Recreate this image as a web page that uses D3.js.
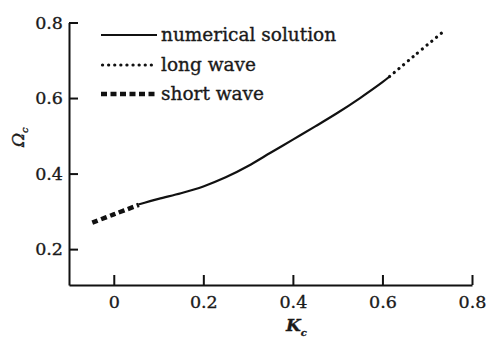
<!DOCTYPE html>
<html>
<head>
<meta charset="utf-8">
<script src="https://cdn.jsdelivr.net/npm/d3@7"></script>
<style>
  body { margin: 0; background: #fff; }
  svg { display: block; }
  text { font-family: "DejaVu Serif", "Liberation Serif", serif; fill: #1a1a1a; stroke: #1a1a1a; stroke-width: 0.35px; }
</style>
</head>
<body>
<div id="chart"></div>
<script>
// data
const numericalK = [0.055, 0.1, 0.15, 0.2, 0.25, 0.3, 0.35, 0.4, 0.45, 0.5, 0.55, 0.6, 0.616];
const numericalOmega = [0.318, 0.333, 0.348, 0.366, 0.390, 0.420, 0.455, 0.490, 0.525, 0.561, 0.600, 0.642, 0.657];
const longK = [0.616, 0.67, 0.732];
const longOmega = [0.657, 0.711, 0.772];
const shortK = [-0.048, 0.0, 0.056];
const shortOmega = [0.270, 0.292, 0.317];
const xTicks = [0, 0.2, 0.4, 0.6, 0.8];
const yTicks = [0.2, 0.4, 0.6, 0.8];
const legendLabels = ['numerical solution', 'long wave', 'short wave'];

const width = 491, height = 337;
const margins = { left: 69, right: 19, top: 22.5, bottom: 52 };

const svg = d3.select('#chart').append('svg')
  .attr('width', width)
  .attr('height', height);

const x = d3.scaleLinear().domain([-0.1, 0.8]).range([margins.left, width - margins.right]);
const y = d3.scaleLinear().domain([0.105, 0.8]).range([height - margins.bottom, margins.top]);

// axes, ticks pointing inward
const xAxis = svg.append('g')
  .attr('transform', `translate(0, ${height - margins.bottom})`)
  .call(d3.axisBottom(x).tickValues(xTicks).tickSize(-10).tickFormat(d3.format('.1~f')).tickSizeOuter(0));
xAxis.selectAll('text').attr('y', 0).attr('dy', '23px').style('font-size', '17.5px');

const yAxis = svg.append('g')
  .attr('transform', `translate(${margins.left}, 0)`)
  .call(d3.axisLeft(y).tickValues(yTicks).tickSize(-9).tickPadding(6).tickFormat(d3.format('.1f')).tickSizeOuter(0));
yAxis.selectAll('text').style('font-size', '17.5px');

svg.selectAll('.domain, .tick line')
  .style('stroke', '#111')
  .style('stroke-width', 2);

// axis labels
const xLabel = svg.append('text')
  .attr('x', x(0.4) - 7)
  .attr('y', 331)
  .style('font-size', '17px')
  .style('font-weight', 'bold')
  .style('font-style', 'italic');
xLabel.append('tspan').text('K');
xLabel.append('tspan').attr('dy', 5).style('font-size', '10px').text('c');

const yLabel = svg.append('text')
  .attr('transform', `translate(24, 147) rotate(-90)`)
  .style('font-size', '17px')
  .style('font-style', 'italic');
yLabel.append('tspan').text('Ω');
yLabel.append('tspan').attr('dy', 4).style('font-size', '10px').text('c');

// curves
const line = d3.line().x(d => x(d[0])).y(d => y(d[1])).curve(d3.curveCatmullRom);

svg.append('path')
  .datum(d3.zip(numericalK, numericalOmega))
  .attr('d', line)
  .attr('fill', 'none')
  .attr('stroke', '#111')
  .attr('stroke-width', 2.2);

svg.append('path')
  .datum(d3.zip(longK, longOmega))
  .attr('d', line)
  .attr('fill', 'none')
  .attr('stroke', '#111')
  .attr('stroke-width', 3.2)
  .attr('stroke-linecap', 'round')
  .attr('stroke-dasharray', '0.1 6');

svg.append('path')
  .datum(d3.zip(shortK, shortOmega))
  .attr('d', line)
  .attr('fill', 'none')
  .attr('stroke', '#111')
  .attr('stroke-width', 4.5)
  .attr('stroke-dasharray', '6 3.5');

// legend
const legendStyles = [
  { width: 2.2, dash: null, cap: 'butt' },
  { width: 3.2, dash: '0.1 6', cap: 'round' },
  { width: 4.5, dash: '6 3.5', cap: 'butt' }
];
const legendY = [35, 65, 94];
const legend = svg.append('g').attr('class', 'legend');
const items = legend.selectAll('.legend-item')
  .data(legendLabels)
  .enter()
  .append('g')
  .attr('class', 'legend-item')
  .attr('transform', (d, i) => `translate(101, ${legendY[i]})`);

items.append('line')
  .attr('x1', (d, i) => i === 1 ? 1.5 : 0)
  .attr('x2', 56)
  .attr('stroke', '#111')
  .attr('stroke-width', (d, i) => legendStyles[i].width)
  .attr('stroke-linecap', (d, i) => legendStyles[i].cap)
  .attr('stroke-dasharray', (d, i) => legendStyles[i].dash);

items.append('text')
  .attr('x', 60)
  .attr('dy', '0.32em')
  .style('font-size', '18.5px')
  .text(d => d);
</script>
</body>
</html>
